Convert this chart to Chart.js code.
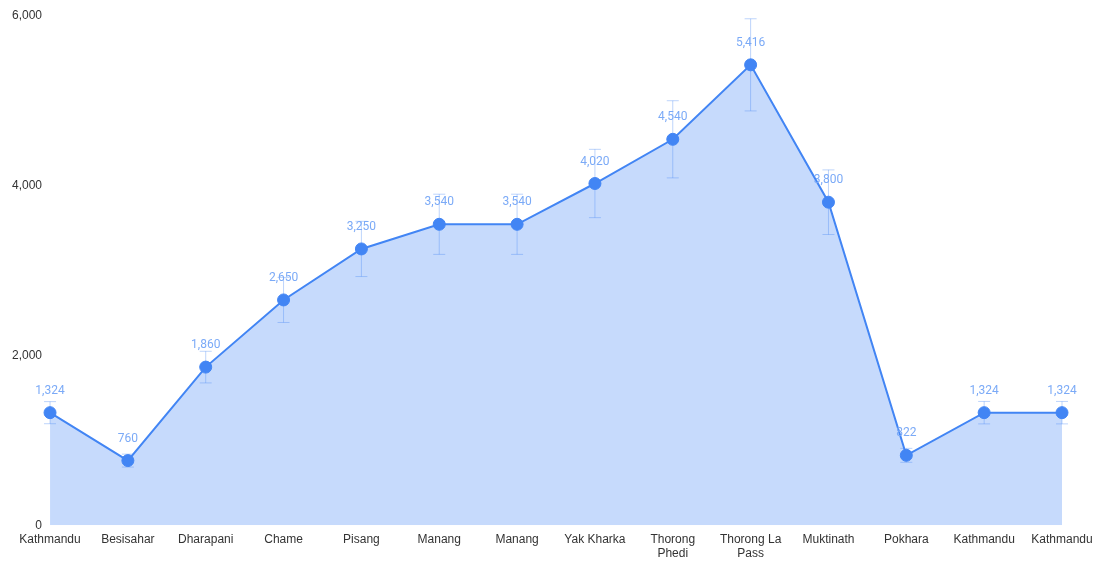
<!DOCTYPE html>
<html>
<head>
<meta charset="utf-8">
<script src="https://cdn.jsdelivr.net/npm/chart.js@4.4.0/dist/chart.umd.min.js"></script>
<style>
    html, body { margin: 0; padding: 0; background: #fff; }
    #wrap { width: 1109px; height: 580px; position: relative; }
</style>
</head>
<body>
<div id="wrap"><canvas id="altChart"></canvas></div>
<script>
// Annapurna circuit stops and altitude (m)
const stops = ['Kathmandu', 'Besisahar', 'Dharapani', 'Chame', 'Pisang', 'Manang', 'Manang',
    'Yak Kharka', ['Thorong', 'Phedi'], ['Thorong La', 'Pass'], 'Muktinath', 'Pokhara', 'Kathmandu', 'Kathmandu'];
const altitudes = [1324, 760, 1860, 2650, 3250, 3540, 3540, 4020, 4540, 5416, 3800, 822, 1324, 1324];
// error bar half-widths
const errors = [130, 76, 186, 265, 325, 354, 354, 402, 454, 542, 380, 82, 132, 132];
const yTicks = [0, 2000, 4000, 6000];

const fmt = v => Number(v).toLocaleString('en-US');
const axisFont = { family: '"Liberation Sans", Arial, sans-serif', size: 12 };

// draws the faint interval whiskers
const errorBars = {
    id: 'errorBars',
    beforeDatasetsDraw(chart) {
        const ctx = chart.ctx;
        const x = chart.scales.x, y = chart.scales.y;
        ctx.save();
        ctx.strokeStyle = 'rgba(66, 133, 244, 0.35)';
        ctx.lineWidth = 1;
        altitudes.forEach((v, i) => {
            const px = x.getPixelForValue(i);
            const top = y.getPixelForValue(v + errors[i]);
            const bot = y.getPixelForValue(v - errors[i]);
            ctx.beginPath();
            ctx.moveTo(px, top); ctx.lineTo(px, bot);
            ctx.moveTo(px - 6, top); ctx.lineTo(px + 6, top);
            ctx.moveTo(px - 6, bot); ctx.lineTo(px + 6, bot);
            ctx.stroke();
        });
        ctx.restore();
    }
};

// value labels above each point
const valueLabels = {
    id: 'valueLabels',
    afterDatasetsDraw(chart) {
        const ctx = chart.ctx;
        const meta = chart.getDatasetMeta(0);
        ctx.save();
        ctx.font = '12px Roboto';
        ctx.fillStyle = '#7baaf7';
        ctx.textAlign = 'center';
        ctx.textBaseline = 'middle';
        meta.data.forEach((pt, i) => {
            ctx.fillText(fmt(altitudes[i]), pt.x, pt.y - 22);
        });
        ctx.restore();
    }
};

const ctx = document.getElementById('altChart').getContext('2d');
new Chart(ctx, {
    type: 'line',
    data: {
        labels: stops,
        datasets: [{
            data: altitudes,
            borderColor: '#4285f4',
            borderWidth: 2,
            backgroundColor: 'rgba(66, 133, 244, 0.3)',
            fill: 'origin',
            tension: 0,
            pointRadius: 6,
            pointBackgroundColor: '#4285f4',
            pointBorderColor: '#4285f4',
            pointBorderWidth: 1
        }]
    },
    options: {
        responsive: true,
        maintainAspectRatio: false,
        animation: false,
        layout: { padding: { top: 13, left: 4, right: 47, bottom: 12 } },
        plugins: {
            legend: { display: false },
            tooltip: { enabled: false }
        },
        scales: {
            x: {
                offset: false,
                grid: { display: false, drawTicks: false },
                border: { display: false },
                ticks: {
                    color: '#333',
                    font: axisFont,
                    maxRotation: 0,
                    autoSkip: false,
                    padding: 7
                }
            },
            y: {
                min: 0,
                max: 6000,
                afterBuildTicks: axis => { axis.ticks = yTicks.map(v => ({ value: v })); },
                grid: { display: false, drawTicks: false },
                border: { display: false },
                ticks: {
                    color: '#333',
                    font: axisFont,
                    padding: 8,
                    callback: v => fmt(v)
                }
            }
        }
    },
    plugins: [errorBars, valueLabels]
});
</script>
</body>
</html>
